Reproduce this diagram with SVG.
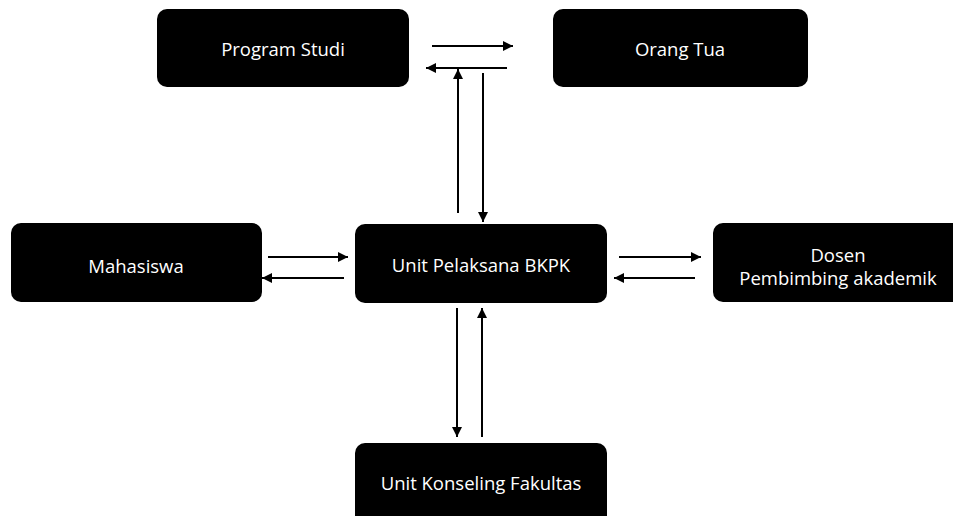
<svg xmlns="http://www.w3.org/2000/svg" width="953" height="516" viewBox="0 0 953 516">
  <style>
    .box { fill: #000; }
    .label { fill: #fff; font-family: "Open Sans", "Noto Sans", sans-serif; font-size: 18.5px; text-anchor: middle; }
    .link { stroke: #000; stroke-width: 2; fill: none; marker-end: url(#head); }
  </style>
  <defs>
    <marker id="head" viewBox="0 0 10 10" refX="10" refY="5" markerWidth="12" markerHeight="10" markerUnits="userSpaceOnUse" orient="auto">
      <path d="M0,0 L10,5 L0,10 Z" fill="#000"/>
    </marker>
  </defs>
  <rect width="953" height="516" fill="#fff"/>

  <g id="program-studi">
    <rect class="box" x="157" y="9" width="252" height="78" rx="10"/>
    <text class="label" x="283" y="56">Program Studi</text>
  </g>
  <g id="orang-tua">
    <rect class="box" x="553" y="9" width="255" height="78" rx="10"/>
    <text class="label" x="680" y="56">Orang Tua</text>
  </g>
  <g id="mahasiswa">
    <rect class="box" x="11" y="223" width="251" height="79" rx="10"/>
    <text class="label" x="136" y="273">Mahasiswa</text>
  </g>
  <g id="unit-pelaksana">
    <rect class="box" x="355" y="224" width="252" height="79" rx="10"/>
    <text class="label" x="481" y="272">Unit Pelaksana BKPK</text>
  </g>
  <g id="dosen-pa">
    <rect class="box" x="713" y="223" width="252" height="79" rx="10"/>
    <text class="label" x="838" y="262">Dosen</text>
    <text class="label" x="838" y="285">Pembimbing akademik</text>
  </g>
  <g id="unit-konseling">
    <rect class="box" x="355" y="443" width="252" height="85" rx="10"/>
    <text class="label" x="481" y="490">Unit Konseling Fakultas</text>
  </g>

  <g id="connectors">
    <!-- Program Studi <-> Orang Tua -->
    <line class="link" x1="432" y1="46" x2="513" y2="46"/>
    <line class="link" x1="507" y1="68" x2="426" y2="68"/>
    <!-- Unit Pelaksana <-> Program Studi -->
    <line class="link" x1="458" y1="213" x2="458" y2="69"/>
    <line class="link" x1="483" y1="73" x2="483" y2="222"/>
    <!-- Mahasiswa <-> Unit Pelaksana -->
    <line class="link" x1="268" y1="257" x2="348" y2="257"/>
    <line class="link" x1="344" y1="278" x2="262" y2="278"/>
    <!-- Unit Pelaksana <-> Dosen -->
    <line class="link" x1="619" y1="257" x2="701" y2="257"/>
    <line class="link" x1="695" y1="278" x2="614" y2="278"/>
    <!-- Unit Pelaksana <-> Unit Konseling -->
    <line class="link" x1="457" y1="308" x2="457" y2="437"/>
    <line class="link" x1="482" y1="437" x2="482" y2="308"/>
  </g>
</svg>
